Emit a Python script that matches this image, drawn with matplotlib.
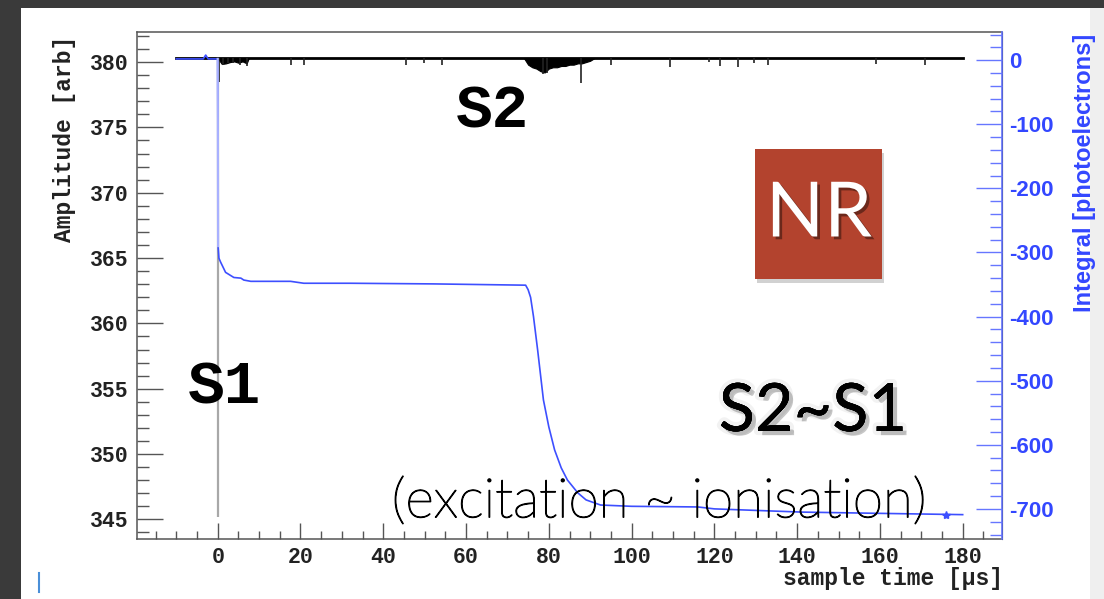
import matplotlib
matplotlib.use("Agg")
import matplotlib.pyplot as plt
import matplotlib.patheffects as pe
from matplotlib.patches import Rectangle
from matplotlib.ticker import MultipleLocator

plt.rcParams['axes.unicode_minus'] = False

# ---- integrated charge (blue, right axis) ----
integral_t = [-10, -6, -3.5, -2.9, -2.3, -0.5, 0.0, 0.1, 0.3, 0.7, 1.9, 3.9, 5.6, 6.3, 8.0,
              17.6, 20.8, 32, 52, 74.4, 75.0, 75.6, 76.3, 77.3, 78.7, 80.0, 81.4, 83.0, 84.5,
              87, 89, 92.5, 100, 116, 120, 141, 160, 180]
integral_pe = [2, 2, 2, 8, 2, 2, 2, -290, -309, -315, -331, -339, -340, -343, -345,
               -345, -348, -348, -349, -351, -358, -370, -400, -452, -530, -572, -608, -636, -655,
               -675, -686, -694, -696, -697, -700, -705, -707, -709]
end_t = [176]
end_pe = [-709]

# ---- raw waveform (black, left axis) ----
base_t = [-10, 180]
base_amp = 380.3
s1_t = 0.0
s1_amp = 345.2
spike_t = [0.2, 1.2, 2.4, 3.6, 5.5, 7.0, 17.6, 20.8, 45.4, 49.8, 54.3, 78.7, 79.5,
           87.7, 95, 109.4, 118.6, 121.3, 125.8, 129.5, 133, 159, 171]
spike_amp = [378.5, 379.8, 379.9, 379.9, 379.8, 379.7, 379.8, 379.8, 379.8, 379.9, 379.8,
             379.05, 379.2, 378.4, 379.8, 379.6, 380.0, 379.7, 379.6, 379.9, 379.8, 379.85, 379.8]
s1_env_t = [0.0, 1, 2, 3, 4, 5, 6, 7, 7.5]
s1_env_amp = [380.3, 379.85, 379.9, 380.0, 380.05, 379.95, 380.05, 379.9, 380.3]
s2_env_t = [74, 75, 76, 77, 78, 79, 80, 81, 82, 83, 84, 85, 86, 87, 88, 89, 90, 91]
s2_env_amp = [380.3, 379.8, 379.6, 379.5, 379.3, 379.2, 379.5, 379.6, 379.6, 379.7,
              379.7, 379.8, 379.8, 379.9, 379.9, 380.0, 380.1, 380.3]

W, H = 1104, 599


def fx(px):
    return px / W


def fy(py):
    return 1 - py / H


fig = plt.figure(figsize=(W / 100, H / 100), dpi=100)
fig.patch.set_facecolor('#3a3a3a')

# slide panel behind everything
fig.patches.append(Rectangle((fx(21), 0), fx(1090) - fx(21), fy(8), transform=fig.transFigure,
                             facecolor='white', edgecolor='none', zorder=-2))
fig.patches.append(Rectangle((fx(1090), 0), 1 - fx(1090), fy(8), transform=fig.transFigure,
                             facecolor='#efefef', edgecolor='none', zorder=-2))

ax = fig.add_axes([fx(137), fy(539), fx(1002) - fx(137), fy(32) - fy(539)])
ax.set_facecolor('white')
ax2 = ax.twinx()

# waveform
ax.vlines(s1_t, s1_amp, base_amp, color='#a8a8a8', lw=1.6, zorder=2)
ax.plot(base_t, [base_amp, base_amp], color='black', lw=2.0, zorder=3)
ax.fill_between(s1_env_t, s1_env_amp, base_amp, color='black', lw=0.8, zorder=3)
ax.fill_between(s2_env_t, s2_env_amp, base_amp, color='black', lw=0.8, zorder=3)
ax.vlines(spike_t, spike_amp, base_amp, color='#222222', lw=1.2, zorder=3)

ax.set_xlim(-19.5, 189.5)
ax.set_ylim(343.5, 382.3)

# integral, the prompt step drawn fainter as in the original trace
ax2.plot(integral_t, integral_pe, color='#3d4fff', lw=1.2, zorder=4)
ax2.plot(integral_t[6:8], integral_pe[6:8], color='#a9b1ff', lw=1.6, zorder=5)
ax2.plot(end_t, end_pe, marker='*', color='#3d4fff', ms=6, ls='none')
ax2.set_ylim(-747, 44)

mono = 'Liberation Mono'
ax.xaxis.set_major_locator(MultipleLocator(20))
ax.xaxis.set_minor_locator(MultipleLocator(5))
ax.yaxis.set_major_locator(MultipleLocator(5))
ax.yaxis.set_minor_locator(MultipleLocator(1))
ax2.yaxis.set_major_locator(MultipleLocator(100))
ax2.yaxis.set_minor_locator(MultipleLocator(20))

ax.tick_params(axis='x', which='major', direction='in', length=11.5, width=1, color='#555555',
               top=False, pad=6)
ax.tick_params(axis='x', which='minor', direction='in', length=5.8, width=1, color='#555555', top=False)
ax.tick_params(axis='y', which='major', direction='in', length=19, width=1, color='#555555',
               right=False, pad=6)
ax.tick_params(axis='y', which='minor', direction='in', length=8.5, width=1, color='#555555', right=False)
ax2.tick_params(axis='y', which='major', direction='in', length=19, width=1, color='#6676ff',
                labelcolor='#3347ff', pad=5)
ax2.tick_params(axis='y', which='minor', direction='in', length=8.5, width=1, color='#6676ff')

for lab in ax.get_xticklabels() + ax.get_yticklabels():
    lab.set_fontfamily(mono)
    lab.set_fontweight('bold')
    lab.set_fontsize(15.5)
    lab.set_color('#222222')
for lab in ax2.get_yticklabels():
    lab.set_fontfamily('Liberation Sans')
    lab.set_fontweight('bold')
    lab.set_fontsize(16)

for s in ['left', 'bottom', 'top']:
    ax.spines[s].set_color('#555555')
    ax.spines[s].set_linewidth(1.1)
ax2.spines['right'].set_color('#6676ff')
ax2.spines['right'].set_linewidth(1.2)
for s in ['left', 'bottom', 'top']:
    ax2.spines[s].set_visible(False)

# axis titles
fig.text(fx(65), fy(139), 'Amplitude [arb]', rotation=90, ha='center', va='center',
         family=mono, weight='bold', fontsize=16.5, color='#222222')
fig.text(fx(1003), fy(578), 'sample time [\u03bcs]', ha='right', va='center',
         family=mono, weight='bold', fontsize=16.5, color='#222222')
fig.text(fx(1084), fy(173), 'Integral [photoelectrons]', rotation=90, ha='center', va='center',
         family='Liberation Sans', weight='bold', fontsize=17, color='#3347ff')

# signal labels
fig.text(fx(188), fy(388), 'S1', ha='left', va='center', family=mono, weight='bold',
         fontsize=44, color='black')
fig.text(fx(456), fy(112), 'S2', ha='left', va='center', family=mono, weight='bold',
         fontsize=44, color='black')

# NR badge
fig.patches.append(Rectangle((fx(757), fy(283)), fx(882) - fx(755), fy(149) - fy(279),
                             transform=fig.transFigure, facecolor='#000000', alpha=0.18,
                             edgecolor='none', zorder=5))
fig.patches.append(Rectangle((fx(755), fy(279)), fx(882) - fx(755), fy(149) - fy(279),
                             transform=fig.transFigure, facecolor='#b3432e',
                             edgecolor='none', zorder=6))
fig.text(fx(819), fy(215), 'NR', ha='center', va='center', family='Lato', fontsize=55,
         color='white', zorder=7,
         path_effects=[pe.withSimplePatchShadow(offset=(2, -2), shadow_rgbFace='black', alpha=0.4)])

glow = [pe.withSimplePatchShadow(offset=(3, -3), shadow_rgbFace='black', alpha=0.22),
        pe.withStroke(linewidth=6, foreground=(0, 0, 0, 0.05)),
        pe.Normal()]
fig.text(fx(813), fy(412), 'S2~S1', ha='center', va='center', family='Lato', fontsize=48,
         color='black', path_effects=glow)
fig.text(fx(659), fy(502), '(excitation ~ ionisation)', ha='center', va='center',
         family='Lato', weight='light', fontsize=39.5, color='black',
         path_effects=[pe.withStroke(linewidth=0.9, foreground='black')])

# cursor mark
fig.add_artist(plt.Line2D([fx(39), fx(39)], [fy(573), fy(592)], transform=fig.transFigure,
                          color='#4a8fd8', lw=1.5))

fig.savefig('out.png', dpi=100, facecolor=fig.get_facecolor())
